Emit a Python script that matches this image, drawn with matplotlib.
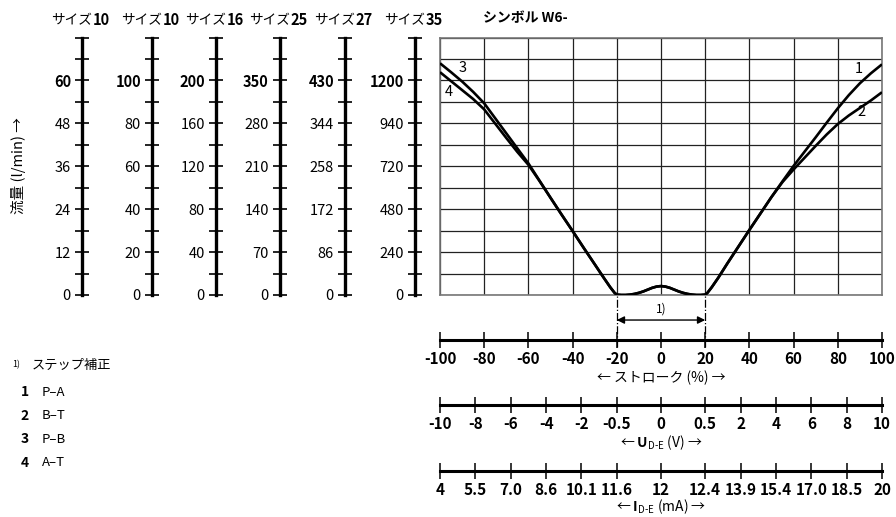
import matplotlib
matplotlib.use('Agg')
import matplotlib.pyplot as plt
import numpy as np

plt.rcParams['font.family'] = ['Noto Sans CJK JP', 'DejaVu Sans']
plt.rcParams['mathtext.fontset'] = 'custom'
plt.rcParams['mathtext.rm'] = 'Noto Sans CJK JP'
plt.rcParams['mathtext.bf'] = 'Noto Sans CJK JP:bold'

# ---- data ----
# flow is given in "size 10 (60 l/min)" units, 0..72
stroke_left = [-100, -95, -90, -85, -80, -75, -70, -65, -60, -55, -50, -45, -40, -35,
               -30, -26, -23, -21, -20, -18, -16, -14, -12, -10, -8, -6, -4, -2, 0]
flow_3 = [64.8, 62.3, 59.7, 56.8, 53.6, 49.4, 45.2, 41.0, 36.8, 32.0, 27.2, 22.5, 17.9, 13.2,
          8.6, 4.9, 2.2, 0.6, 0.1, 0.0, 0.0, 0.1, 0.3, 0.6, 1.0, 1.5, 2.0, 2.35, 2.5]
flow_4 = [62.3, 59.8, 57.3, 54.8, 51.9, 47.9, 43.9, 40.0, 36.4, 31.9, 27.2, 22.5, 17.9, 13.2,
          8.6, 4.9, 2.2, 0.6, 0.1, 0.0, 0.0, 0.1, 0.3, 0.6, 1.0, 1.5, 2.0, 2.35, 2.5]

stroke_right = [0, 2, 4, 6, 8, 10, 12, 14, 16, 18, 20, 21, 23, 26, 30, 35, 40, 45, 50, 55,
                60, 65, 70, 75, 80, 85, 90, 95, 100]
flow_1 = [2.5, 2.35, 2.0, 1.5, 1.0, 0.6, 0.3, 0.1, 0.0, 0.0, 0.1, 0.6, 2.2, 4.9, 8.8, 13.5,
          18.2, 22.8, 27.4, 31.8, 36.1, 40.1, 44.1, 48.2, 52.2, 55.9, 59.2, 62.0, 64.5]
flow_2 = [2.5, 2.35, 2.0, 1.5, 1.0, 0.6, 0.3, 0.1, 0.0, 0.0, 0.1, 0.6, 2.2, 4.9, 8.8, 13.5,
          18.2, 22.8, 27.4, 31.6, 35.1, 38.4, 41.7, 44.9, 47.8, 50.2, 52.3, 54.4, 56.7]

curve_labels = ['1', '2', '3', '4']
curve_names = ['P–A', 'B–T', 'P–B', 'A–T']

sizes = ['10', '10', '16', '25', '27', '35']
scale_labels = [
    ['0', '12', '24', '36', '48', '60'],
    ['0', '20', '40', '60', '80', '100'],
    ['0', '40', '80', '120', '160', '200'],
    ['0', '70', '140', '210', '280', '350'],
    ['0', '86', '172', '258', '344', '430'],
    ['0', '240', '480', '720', '940', '1200'],
]
scale_x_px = [82, 152, 216, 280, 345, 415]

stroke_ticks = [-100, -80, -60, -40, -20, 0, 20, 40, 60, 80, 100]
u_labels = ['-10', '-8', '-6', '-4', '-2', '-0.5', '0', '0.5', '2', '4', '6', '8', '10']
i_labels = ['4', '5.5', '7.0', '8.6', '10.1', '11.6', '12', '12.4', '13.9', '15.4', '17.0', '18.5', '20']
step_range = [-20, 20]

# ---- layout ----
W, H = 896, 517
fig = plt.figure(figsize=(W / 100, H / 100), dpi=100)

def fx(px):
    return px / W

def fy(py):
    return 1 - py / H

left, right, top, bottom = 440, 882, 37.5, 295
ax = fig.add_axes([fx(left), fy(bottom), fx(right - left), fy(top) - fy(bottom)])
ax.set_xlim(-100, 100)
ax.set_ylim(0, 72)
ax.set_xticks(np.arange(-100, 101, 20))
ax.set_yticks(np.arange(0, 73, 6))
ax.grid(True, color='#222222', lw=0.9)
ax.tick_params(length=0, labelbottom=False, labelleft=False)
for s in ax.spines.values():
    s.set_color('#777777')
    s.set_linewidth(1.2)

lw = 1.9
ax.plot(stroke_left, flow_3, color='black', lw=lw, solid_capstyle='butt', zorder=3)
ax.plot(stroke_left, flow_4, color='black', lw=lw, solid_capstyle='butt', zorder=3)
ax.plot(stroke_right, flow_1, color='black', lw=lw, solid_capstyle='butt', zorder=3)
ax.plot(stroke_right, flow_2, color='black', lw=lw, solid_capstyle='butt', zorder=3)

ax.text(-89.7, 63.5, curve_labels[2], fontsize=10.5, ha='center', va='center')
ax.text(-96, 56.7, curve_labels[3], fontsize=10.5, ha='center', va='center')
ax.text(89.4, 63.2, curve_labels[0], fontsize=10.5, ha='center', va='center')
ax.text(90.8, 51.2, curve_labels[1], fontsize=10.5, ha='center', va='center')

# step compensation marker
ax.vlines(step_range, -14.5, 0, colors='black', linestyles='dashdot', lw=0.9, clip_on=False)
ax.annotate('', xy=(step_range[0], -7), xytext=(step_range[1], -7),
            arrowprops=dict(arrowstyle='<|-|>', color='black', lw=1, mutation_scale=11,
                            shrinkA=0, shrinkB=0), annotation_clip=False)
ax.text(0, -4.0, '1)', fontsize=8.5, ha='center', va='center', clip_on=False)

fig.text(fx(483), fy(18), 'シンボル W6-', fontsize=10, fontweight='bold', ha='left', va='center')

# ---- flow scales on the left ----
for x_px, size, labels in zip(scale_x_px, sizes, scale_labels):
    sax = fig.add_axes([fx(x_px), fy(bottom), 0.0001, fy(top) - fy(bottom)])
    sax.set_facecolor('none')
    sax.set_ylim(0, 72)
    for k in ['top', 'right', 'bottom']:
        sax.spines[k].set_visible(False)
    sax.spines['left'].set_linewidth(2.4)
    sax.set_xticks([])
    sax.set_yticks(np.arange(0, 61, 12))
    sax.set_yticks([6, 18, 30, 42, 54, 66, 72], minor=True)
    sax.set_yticklabels(labels, fontsize=10.5)
    sax.get_yticklabels()[-1].set_fontweight('bold')
    sax.tick_params(axis='y', which='both', direction='inout', length=10, width=1.2, pad=3)
    sax.annotate('サイズ', xy=(0, 1), xycoords='axes fraction', xytext=(7.5, 12.5),
                 textcoords='offset points', ha='right', va='center', fontsize=9.8)
    sax.annotate(size, xy=(0, 1), xycoords='axes fraction', xytext=(7.5, 12.5),
                 textcoords='offset points', ha='left', va='center', fontsize=10.5,
                 fontweight='bold')

fig.text(fx(18), fy(166), '流量 (l/min) →', rotation=90, fontsize=10.5, ha='center', va='center')

# ---- bottom scales ----
def bottom_axis(y_px, ticks, labels, xlabel, label_y_px):
    bax = fig.add_axes([fx(left), fy(y_px), fx(right - left), 0.0001])
    bax.set_facecolor('none')
    bax.set_xlim(-100, 100)
    for k in ['top', 'right', 'left']:
        bax.spines[k].set_visible(False)
    bax.spines['bottom'].set_linewidth(2.2)
    bax.set_yticks([])
    bax.set_xticks(ticks)
    bax.set_xticklabels(labels, fontsize=11, fontweight='bold')
    bax.tick_params(axis='x', direction='inout', length=11, width=1.1, pad=2.5)
    fig.text(fx((left + right) / 2), fy(label_y_px), xlabel, fontsize=10,
             ha='center', va='center')
    return bax

bottom_axis(340, stroke_ticks, [str(t) for t in stroke_ticks], '← ストローク (%) →', 378)
pos = np.concatenate([np.linspace(-100, -20, 6), [0], np.linspace(20, 100, 6)])
bottom_axis(404.5, pos, u_labels, r'← $\mathbf{U}_{\mathrm{D\text{-}E}}$ (V) →', 443)
bottom_axis(471, pos, i_labels, r'← $\mathbf{I}_{\mathrm{D\text{-}E}}$ (mA) →', 507)

# ---- notes ----
fig.text(fx(12), fy(365), '1)', fontsize=6.5, ha='left', va='center')
fig.text(fx(32), fy(365), 'ステップ補正', fontsize=9.5, ha='left', va='center')
for i, (num, name) in enumerate(zip(curve_labels, curve_names)):
    y = 392.3 + i * 23.5
    fig.text(fx(25), fy(y), num, fontsize=10, fontweight='bold', ha='center', va='center')
    fig.text(fx(42), fy(y), name, fontsize=9.5, ha='left', va='center')

fig.savefig('out.png', dpi=100)
